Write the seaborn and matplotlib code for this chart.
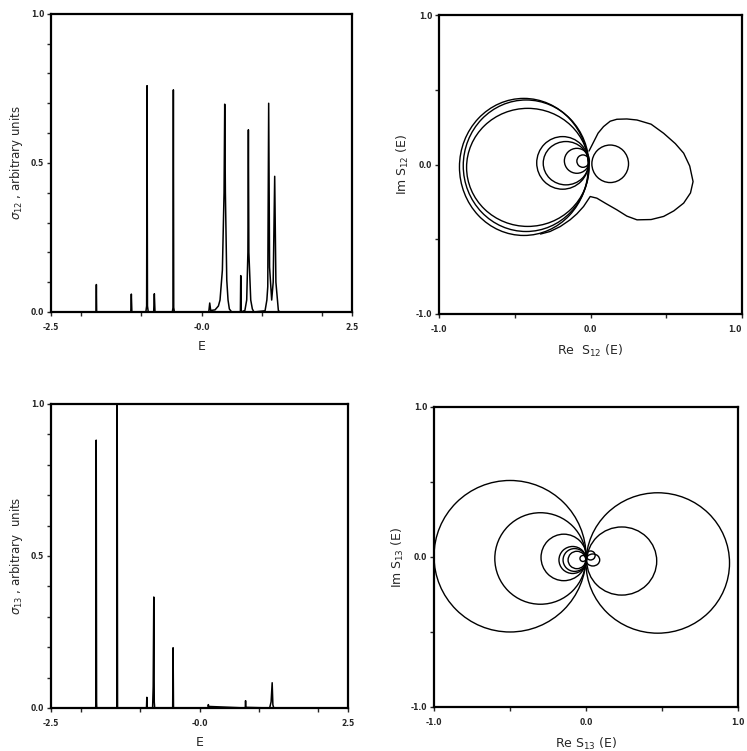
import numpy as np
import pandas as pd
import seaborn as sns
import matplotlib.pyplot as plt
from matplotlib.patches import Ellipse

# spectrum sigma_12 (E)
E_12 = [-2.5, -1.752, -1.747, -1.742, -1.175, -1.166, -1.157,
        -0.925, -0.912, -0.905, -0.898, -0.885, -0.795, -0.784, -0.773,
        -0.485, -0.474, -0.468, -0.462, -0.451,
        0.12, 0.136, 0.152, 0.224, 0.28, 0.307, 0.346, 0.374, 0.385, 0.396, 0.419, 0.44, 0.462, 0.5,
        0.645, 0.651, 0.657,
        0.72, 0.75, 0.77, 0.778, 0.786, 0.817, 0.844, 0.87,
        1.055, 1.085, 1.10, 1.115, 1.13, 1.165, 1.19, 1.215, 1.235, 1.276, 1.30, 2.5]
sig_12 = [0, 0, 0.092, 0, 0, 0.06, 0,
          0, 0.02, 0.759, 0.02, 0, 0, 0.061, 0,
          0, 0.015, 0.745, 0.015, 0,
          0, 0.03, 0.005, 0.007, 0.02, 0.04, 0.14, 0.40, 0.697, 0.40, 0.107, 0.04, 0.01, 0,
          0, 0.122, 0,
          0.005, 0.04, 0.2, 0.611, 0.2, 0.04, 0.01, 0,
          0.004, 0.04, 0.085, 0.70, 0.15, 0.04, 0.10, 0.455, 0.10, 0.005, 0, 0]

# spectrum sigma_13 (E)
E_13 = [-2.5, -1.748, -1.745, -1.739, -1.733, -1.73, -1.392, -1.386, -1.380,
        -0.893, -0.887, -0.881, -0.79, -0.78, -0.770, -0.762, -0.755,
        -0.452, -0.445, -0.438, 0.14, 0.148, 0.156, 0.77, 0.775, 0.78,
        1.18, 1.205, 1.223, 1.235, 1.25, 2.5]
sig_13 = [0, 0, 0.02, 0.881, 0.02, 0, 0, 1.0, 0,
          0, 0.035, 0, 0, 0.07, 0.365, 0.02, 0,
          0, 0.198, 0, 0, 0.011, 0.005, 0, 0.024, 0.002,
          0, 0.02, 0.083, 0.01, 0, 0]

# S_12 loops in the complex plane: centre, full width, full height
loop12_cx = [-0.44, -0.425, -0.414, -0.184, -0.162, -0.09, -0.05, 0.13]
loop12_cy = [-0.016, -0.008, -0.019, 0.011, 0.009, 0.025, 0.023, 0.005]
loop12_w = [0.85, 0.83, 0.808, 0.342, 0.30, 0.165, 0.08, 0.242]
loop12_h = [0.917, 0.88, 0.79, 0.352, 0.29, 0.167, 0.083, 0.251]

# the open lobe of S_12 on the right
lobe_re = [-0.01, 0.02, 0.05, 0.086, 0.13, 0.174, 0.24, 0.307, 0.40, 0.483, 0.56, 0.615, 0.655,
           0.677, 0.66, 0.615, 0.55, 0.483, 0.40, 0.307, 0.24, 0.174, 0.10, 0.042, -0.002,
           -0.046, -0.09, -0.135, -0.20, -0.267, -0.33]
lobe_im = [0.09, 0.15, 0.21, 0.254, 0.29, 0.303, 0.305, 0.298, 0.27, 0.209, 0.14, 0.076, -0.01,
           -0.114, -0.19, -0.258, -0.31, -0.347, -0.368, -0.370, -0.345, -0.303, -0.26, -0.225, -0.214,
           -0.281, -0.33, -0.370, -0.415, -0.448, -0.465]

# S_13 loops
loop13_cx = [-0.5, 0.472, -0.30, 0.235, -0.146, -0.088, -0.075, -0.06, -0.02, 0.045, 0.03]
loop13_cy = [0.005, -0.04, -0.01, -0.027, -0.003, -0.02, -0.02, -0.02, -0.01, -0.02, 0.01]
loop13_w = [1.0, 0.944, 0.60, 0.46, 0.30, 0.18, 0.152, 0.116, 0.04, 0.09, 0.06]
loop13_h = [1.01, 0.936, 0.61, 0.454, 0.31, 0.18, 0.152, 0.116, 0.04, 0.08, 0.06]

sns.set_style('ticks')
plt.rcParams['font.family'] = ['DejaVu Sans']

fig = plt.figure(figsize=(7.47, 7.51), dpi=100)
ax_tl = fig.add_axes([0.0683, 0.5846, 0.403, 0.397])
ax_tr = fig.add_axes([0.5877, 0.5819, 0.4056, 0.398])
ax_bl = fig.add_axes([0.0683, 0.0573, 0.3976, 0.4048])
ax_br = fig.add_axes([0.581, 0.0586, 0.407, 0.3995])

tick_font = dict(fontsize=5.5, fontweight='bold')


def frame(ax):
    for s in ax.spines.values():
        s.set_linewidth(1.6)
        s.set_color('black')
    ax.tick_params(which='both', direction='out', length=3, width=1)
    ax.tick_params(axis='x', pad=5)
    ax.tick_params(axis='y', pad=2)


def spectrum(ax, E, s, label):
    df = pd.DataFrame({'E': E, 'sigma': s})
    sns.lineplot(data=df, x='E', y='sigma', ax=ax, color='black', lw=1.1,
                 sort=False, estimator=None)
    ax.set_xlim(-2.5, 2.5)
    ax.set_ylim(0, 1)
    ax.set_xticks([-2.5, 0, 2.5])
    ax.set_xticklabels(['-2.5', '-0.0', '2.5'], **tick_font)
    ax.set_xticks([-2, -1, 1, 2], minor=True)
    ax.set_yticks([0, 0.5, 1])
    ax.set_yticklabels(['0.0', '0.5', '1.0'], **tick_font)
    ax.set_yticks(np.arange(0.1, 1.0, 0.1), minor=True)
    ax.set_xlabel('E', fontsize=9, labelpad=6)
    ax.set_ylabel(label, fontsize=8.5, labelpad=4)
    frame(ax)


def argand(ax, cx, cy, w, h, xlabel, ylabel):
    for x0, y0, ww, hh in zip(cx, cy, w, h):
        ax.add_patch(Ellipse((x0, y0), ww, hh, fill=False, ec='black', lw=1.0))
    ax.set_xlim(-1, 1)
    ax.set_ylim(-1, 1)
    ax.set_xticks([-1, 0, 1])
    ax.set_xticklabels(['-1.0', '0.0', '1.0'], **tick_font)
    ax.set_xticks([-0.5, 0.5], minor=True)
    ax.set_yticks([-1, 0, 1])
    ax.set_yticklabels(['-1.0', '0.0', '1.0'], **tick_font)
    ax.set_yticks([-0.5, 0.5], minor=True)
    ax.set_xlabel(xlabel, fontsize=9, labelpad=6)
    ax.set_ylabel(ylabel, fontsize=9, labelpad=3)
    frame(ax)


spectrum(ax_tl, E_12, sig_12, r'$\sigma_{12}$ , arbitrary units')
spectrum(ax_bl, E_13, sig_13, r'$\sigma_{13}$ , arbitrary  units')

argand(ax_tr, loop12_cx, loop12_cy, loop12_w, loop12_h, r'Re  S$_{12}$ (E)', r'Im S$_{12}$ (E)')
lobe = pd.DataFrame({'re': lobe_re, 'im': lobe_im})
sns.lineplot(data=lobe, x='re', y='im', ax=ax_tr, color='black', lw=1.0, sort=False, estimator=None)
ax_tr.set_xlabel(r'Re  S$_{12}$ (E)', fontsize=9, labelpad=6)
ax_tr.set_ylabel(r'Im S$_{12}$ (E)', fontsize=9, labelpad=3)
# the right-hand "1.0" sits at the page edge; keep it inside
ax_tr.get_xticklabels()[-1].set_horizontalalignment('right')

argand(ax_br, loop13_cx, loop13_cy, loop13_w, loop13_h, r'Re S$_{13}$ (E)', r'Im S$_{13}$ (E)')

fig.savefig('out.png', dpi=100)
